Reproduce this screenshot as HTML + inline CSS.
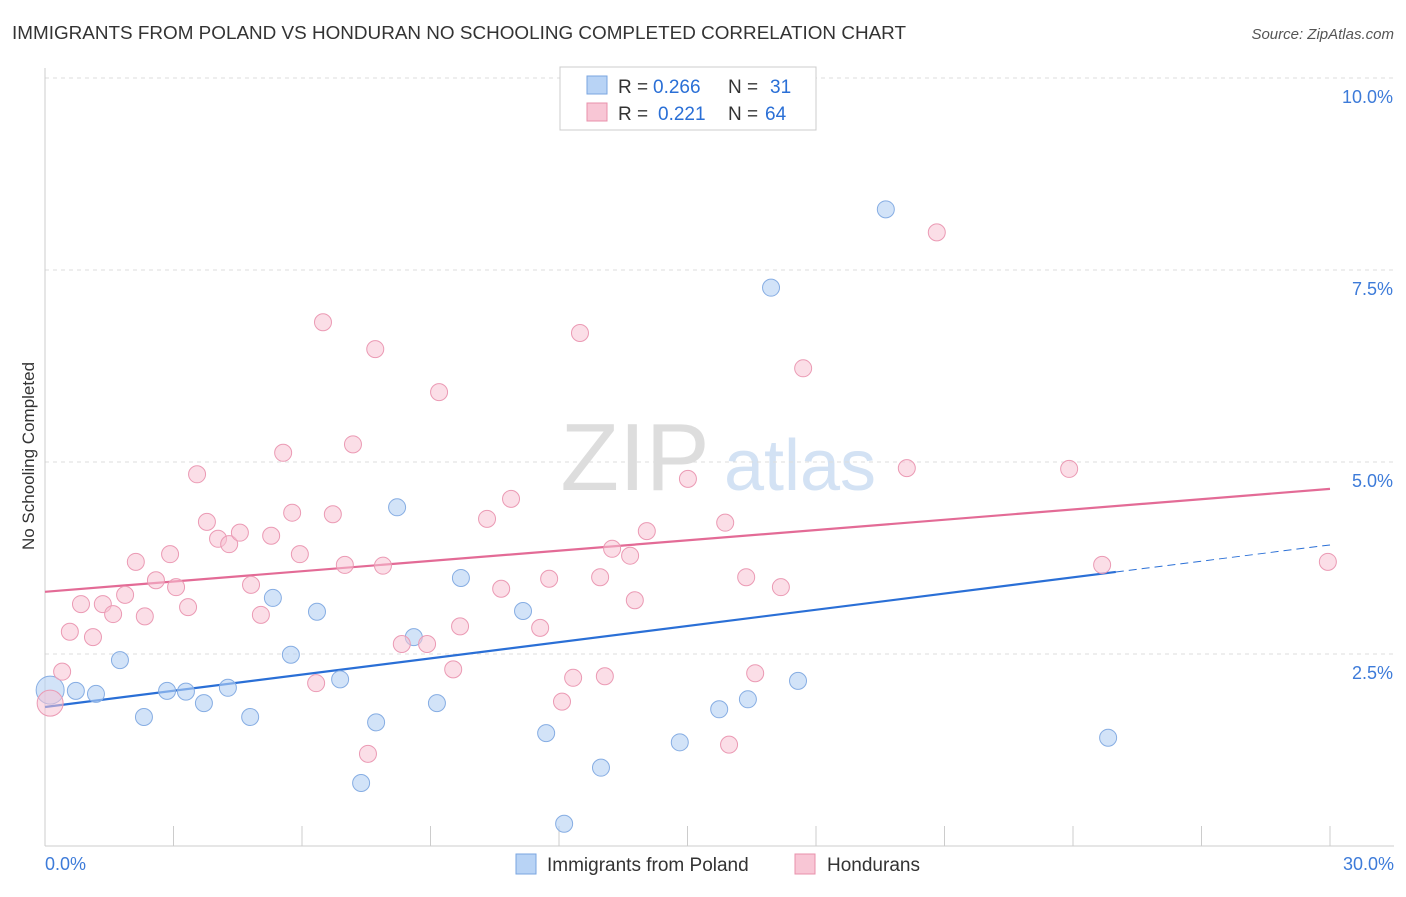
<!DOCTYPE html>
<html><head><meta charset="utf-8"><style>
body{margin:0;background:#fff;font-family:"Liberation Sans",sans-serif}
svg text{font-family:"Liberation Sans",sans-serif}
</style></head><body>
<svg id="c" width="1406" height="892">
<text x="12" y="39" font-size="18" fill="#333" textLength="894" lengthAdjust="spacingAndGlyphs">IMMIGRANTS FROM POLAND VS HONDURAN NO SCHOOLING COMPLETED CORRELATION CHART</text>
<text x="1394" y="39" font-size="15" fill="#555" text-anchor="end" font-style="italic">Source: ZipAtlas.com</text>
<text x="34" y="456" font-size="17" fill="#333" text-anchor="middle" transform="rotate(-90 34 456)">No Schooling Completed</text>
<g><text x="635" y="490" font-size="96" fill="#ddd" text-anchor="middle" font-family="Liberation Serif">ZIP</text><text x="800" y="490" font-size="72" fill="#d3e2f4" text-anchor="middle">atlas</text></g>
<g id="grid"></g><g id="lines"></g><g id="pts"></g>
<g>
<rect x="560" y="67" width="256" height="63" fill="#fff" stroke="#ccc"/>
<rect x="587" y="76" width="20" height="18" fill="#b8d3f5" stroke="#7aa6e0"/>
<text x="618" y="93" font-size="19" fill="#333">R =</text>
<text x="653" y="93" font-size="19" fill="#2a6fd6">0.266</text>
<text x="728" y="93" font-size="19" fill="#333">N =</text>
<text x="770" y="93" font-size="19" fill="#2a6fd6">31</text>
<rect x="587" y="103" width="20" height="18" fill="#f8c6d5" stroke="#e890ab"/>
<text x="618" y="120" font-size="19" fill="#333">R =</text>
<text x="658" y="120" font-size="19" fill="#2a6fd6">0.221</text>
<text x="728" y="120" font-size="19" fill="#333">N =</text>
<text x="765" y="120" font-size="19" fill="#2a6fd6">64</text>
</g>
<g>
<rect x="516" y="854" width="20" height="20" fill="#b8d3f5" stroke="#7aa6e0"/>
<text x="547" y="871" font-size="19" fill="#333">Immigrants from Poland</text>
<rect x="795" y="854" width="20" height="20" fill="#f8c6d5" stroke="#e890ab"/>
<text x="827" y="871" font-size="19" fill="#333">Hondurans</text>
</g>
</svg>
<script>
const yTicks=[2.5,5.0,7.5,10.0];
const xTickLabels=["0.0%","30.0%"];
const blueX=[0.12,0.72,1.19,1.75,2.31,2.85,3.29,3.71,4.27,4.79,5.32,5.74,6.35,6.89,7.73,7.38,8.22,8.61,9.15,9.71,11.16,11.70,12.12,12.98,14.82,15.74,16.41,16.95,17.58,19.63,24.82];
const blueY=[2.03,2.02,1.98,2.42,1.68,2.02,2.01,1.86,2.06,1.68,3.23,2.49,3.05,2.17,1.61,0.82,4.41,2.72,1.86,3.49,3.06,1.47,0.29,1.02,1.35,1.78,1.91,7.27,2.15,8.29,1.41];
const pinkX=[0.12,0.40,0.58,0.84,1.12,1.35,1.59,1.87,2.12,2.33,2.59,2.92,3.06,3.34,3.55,3.78,4.04,4.30,4.55,4.81,5.04,5.28,5.56,5.77,5.95,6.33,6.49,6.72,7.00,7.19,7.54,7.71,7.89,8.33,8.92,9.20,9.53,9.69,10.32,10.65,10.88,11.56,11.77,12.07,12.33,12.49,12.96,13.07,13.24,13.66,13.77,14.05,15.01,15.88,15.97,16.37,16.58,17.18,17.70,20.12,20.82,23.91,24.68,29.95];
const pinkY=[1.86,2.27,2.79,3.15,2.72,3.15,3.02,3.27,3.70,2.99,3.46,3.80,3.37,3.11,4.84,4.22,4.00,3.93,4.08,3.40,3.01,4.04,5.12,4.34,3.80,2.12,6.82,4.32,3.66,5.23,1.20,6.47,3.65,2.63,2.63,5.91,2.30,2.86,4.26,3.35,4.52,2.84,3.48,1.88,2.19,6.68,3.50,2.21,3.87,3.78,3.20,4.10,4.78,4.21,1.32,3.50,2.25,3.37,6.22,4.92,7.99,4.91,3.66,3.70];
const blueTrend=[1.81,3.92], pinkTrend=[3.31,4.65], blueSolidEnd=25;
const NS="http://www.w3.org/2000/svg";
const X=v=>45+v/30*1285, Y=v=>846-v/10*768;
function mk(t,a,p){const e=document.createElementNS(NS,t);for(const k in a)e.setAttribute(k,a[k]);p.appendChild(e);return e;}
const g=document.getElementById('grid');
yTicks.forEach(t=>{
 const l=mk('line',{x1:45,x2:1394,y1:Y(t),y2:Y(t),stroke:'#ddd','stroke-dasharray':'4,4'},g);
 
 
 const tx=mk('text',{x:1393,y:Y(t)+25,'font-size':18,fill:'#3d7bd9','text-anchor':'end'},g);
 tx.textContent=t.toFixed(1)+'%';
 
 
});
const ax=mk('line',{x1:45,x2:1394,y1:846,y2:846,stroke:'#ccc'},g);


const ay=mk('line',{x1:45,x2:45,y1:68,y2:846,stroke:'#ccc'},g);


for(let i=0;i<=10;i++){const t=mk('line',{x1:X(i*3),x2:X(i*3),y1:826,y2:846,stroke:'#ccc'},g);
 
 }
[[0,'start',45],[30,'end',1394]].forEach((d,i)=>{const t=mk('text',{x:d[2],y:870,'font-size':18,fill:'#3d7bd9','text-anchor':d[1]},g);t.textContent=xTickLabels[i];
 
 });
const p=document.getElementById('pts');
function dot(x,y,r,f,s,n){const c=mk('circle',{cx:X(x),cy:Y(y),r:r,fill:f,stroke:s,'stroke-width':1},p);
 
 }
blueX.forEach((x,i)=>dot(x,blueY[i],i==0?14:8.5,'rgba(180,208,244,0.6)','#86ade3','poland-point'));
pinkX.forEach((x,i)=>dot(x,pinkY[i],i==0?13:8.5,'rgba(247,195,212,0.55)','#eb9ab4','honduran-point'));
const L=document.getElementById('lines');
const lerp=(a,x)=>a[0]+(a[1]-a[0])*x/30;
const b1=mk('line',{x1:X(0),y1:Y(blueTrend[0]),x2:X(blueSolidEnd),y2:Y(lerp(blueTrend,blueSolidEnd)),stroke:'#2a6fd6','stroke-width':2.2},L);


const b2=mk('line',{x1:X(blueSolidEnd),y1:Y(lerp(blueTrend,blueSolidEnd)),x2:X(30),y2:Y(blueTrend[1]),stroke:'#2a6fd6','stroke-width':1,'stroke-dasharray':'8,5'},L);


const p1=mk('line',{x1:X(0),y1:Y(pinkTrend[0]),x2:X(30),y2:Y(pinkTrend[1]),stroke:'#e36b96','stroke-width':2.2},L);


</script>
</body></html>
